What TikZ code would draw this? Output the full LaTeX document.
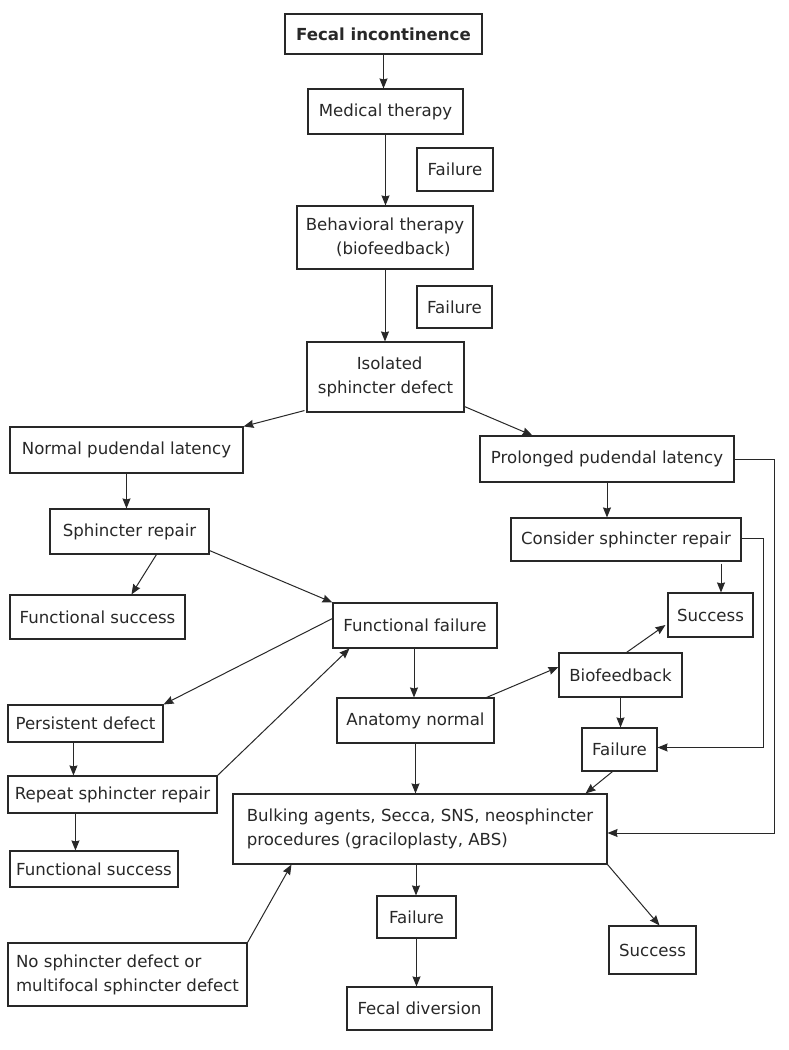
\documentclass[tikz,border=0pt]{standalone}
\usepackage{fontspec}
\setmainfont{DejaVu Sans}
\usetikzlibrary{arrows.meta,calc}
\definecolor{ink}{RGB}{40,40,40}
\tikzset{
  box/.style={draw=ink, line width=1.1pt, inner sep=0pt, align=center, text=ink,
    font=\fontsize{16.6}{24}\selectfont},
  boxl/.style={box, align=left},
  arr/.style={draw=ink, line width=1pt, -{Stealth[length=10pt,width=8pt,inset=1pt]}},
}
\begin{document}
\begin{tikzpicture}[x=1pt,y=-1pt]
\fill[white] (0,0) rectangle (788,1050);
\useasboundingbox (0,0) rectangle (788,1050);
% top column
\node[box, minimum width=197pt, minimum height=40pt] (fi) at (383.5,34) {\textbf{Fecal incontinence}};
\node[box, minimum width=155pt, minimum height=45pt] (mt) at (385.5,111.5) {Medical therapy};
\node[box, minimum width=76pt, minimum height=43pt] (f1) at (455,169.5) {Failure};
\node[box, minimum width=176pt, minimum height=63pt] (bt) at (385,237.5) {Behavioral therapy\\\hspace*{1em}(biofeedback)};
\node[box, minimum width=75pt, minimum height=42pt] (f2) at (454.5,307) {Failure};
\node[box, minimum width=157pt, minimum height=70pt] (isd) at (385.5,377) {\hspace*{0.5em}Isolated\\sphincter defect};
% left branch
\node[box, minimum width=233pt, minimum height=46pt] (npl) at (126.5,450) {Normal pudendal latency};
\node[box, minimum width=159pt, minimum height=45pt] (sr) at (129.5,531.5) {Sphincter repair};
\node[box, minimum width=175pt, minimum height=44pt] (fs1) at (97.5,617) {Functional success};
\node[box, minimum width=164pt, minimum height=45pt] (ff) at (415,625.5) {Functional failure};
\node[box, minimum width=155pt, minimum height=37pt] (pd) at (85.5,723.5) {Persistent defect};
\node[box, minimum width=209pt, minimum height=37pt] (rsr) at (112.5,794.5) {Repeat sphincter repair};
\node[box, minimum width=168pt, minimum height=36pt] (fs2) at (94,869) {Functional success};
\node[boxl, minimum width=239pt, minimum height=63pt] (nos) at (127.5,974.5) {No sphincter defect or\\multifocal sphincter defect};
% right branch
\node[box, minimum width=254pt, minimum height=46pt] (ppl) at (607,459) {Prolonged pudendal latency};
\node[box, minimum width=230pt, minimum height=43pt] (csr) at (626,539.5) {Consider sphincter repair};
\node[box, minimum width=85pt, minimum height=44pt] (s1) at (710.5,615) {Success};
\node[box, minimum width=123pt, minimum height=44pt] (bf) at (620.5,675) {Biofeedback};
\node[box, minimum width=157pt, minimum height=45pt] (an) at (415.5,720.5) {Anatomy normal};
\node[box, minimum width=75pt, minimum height=43pt] (f3) at (619.5,749.5) {Failure};
\node[boxl, minimum width=374pt, minimum height=70pt] (bulk) at (420,829) {Bulking agents, Secca, SNS, neosphincter\\procedures (graciloplasty, ABS)};
\node[box, minimum width=79pt, minimum height=42pt] (fb) at (416.5,917) {Failure};
\node[box, minimum width=145pt, minimum height=43pt] (fd) at (419.5,1008.5) {Fecal diversion};
\node[box, minimum width=87pt, minimum height=48pt] (sb) at (652.5,950) {Success};
% helper coordinates
\coordinate (csrx) at ($(csr.south)+(95,2)$);
% connectors
\draw[arr] (fi.south) -- (fi.south |- mt.north);
\draw[arr] (mt.south) -- (mt.south |- bt.north);
\draw[arr] (bt.south) -- (bt.south |- isd.north);
\draw[arr] ($(isd.south west)+(-2,-2)$) -- (npl.north east);
\draw[arr] ($(isd.south east)+(0,-6)$) -- ($(ppl.north west)+(53,0)$);
\draw[arr] (npl.south) -- (npl.south |- sr.north);
\draw[arr] ($(sr.south west)+(107,0)$) -- ($(fs1.north west)+(122,0)$);
\draw[arr] ($(sr.south east)+(0,-4)$) -- (ff.north west);
\draw[arr] ($(ff.west)+(0,-7)$) -- (pd.north east);
\draw[arr] ($(pd.south west)+(66,0)$) -- ($(rsr.north west)+(66,0)$);
\draw[arr] ($(rsr.south west)+(68,0)$) -- ($(fs2.north west)+(66,0)$);
\draw[arr] (rsr.north east) -- ($(ff.south west)+(17,0)$);
\draw[arr] ($(ff.south)+(-1,0)$) -- ($(an.north)+(-1.5,0)$);
\draw[arr] ($(an.north east)+(-8,0)$) -- ($(bf.west)+(0,-8)$);
\draw[arr] ($(bf.north)+(6,0)$) -- ($(s1.west)+(-2,10)$);
\draw[arr] (bf.south) -- (bf.south |- f3.north);
\draw[arr] (ppl.south) -- (ppl.south |- csr.north);
\draw[arr] (csrx) -- (csrx |- s1.north);
\draw[arr] ($(csr.east)+(0,-1)$) -- ++(22,0) |- ($(f3.east)+(0,-2)$);
\draw[arr] (ppl.east) -- ++(40,0) |- ($(bulk.east)+(0,4)$);
\draw[arr] (an.south) -- (an.south |- bulk.north);
\draw[arr] ($(f3.south)+(-7,0)$) -- ($(bulk.north east)+(-22,0)$);
\draw[arr] ($(bulk.south)+(-4,0)$) -- ($(fb.north)+(-0.5,0)$);
\draw[arr] (fb.south) -- ($(fd.north)+(-3,0)$);
\draw[arr] (bulk.south east) -- ($(sb.north)+(7,0)$);
\draw[arr] (nos.north east) -- ($(bulk.south west)+(59,0)$);
\end{tikzpicture}
\end{document}
